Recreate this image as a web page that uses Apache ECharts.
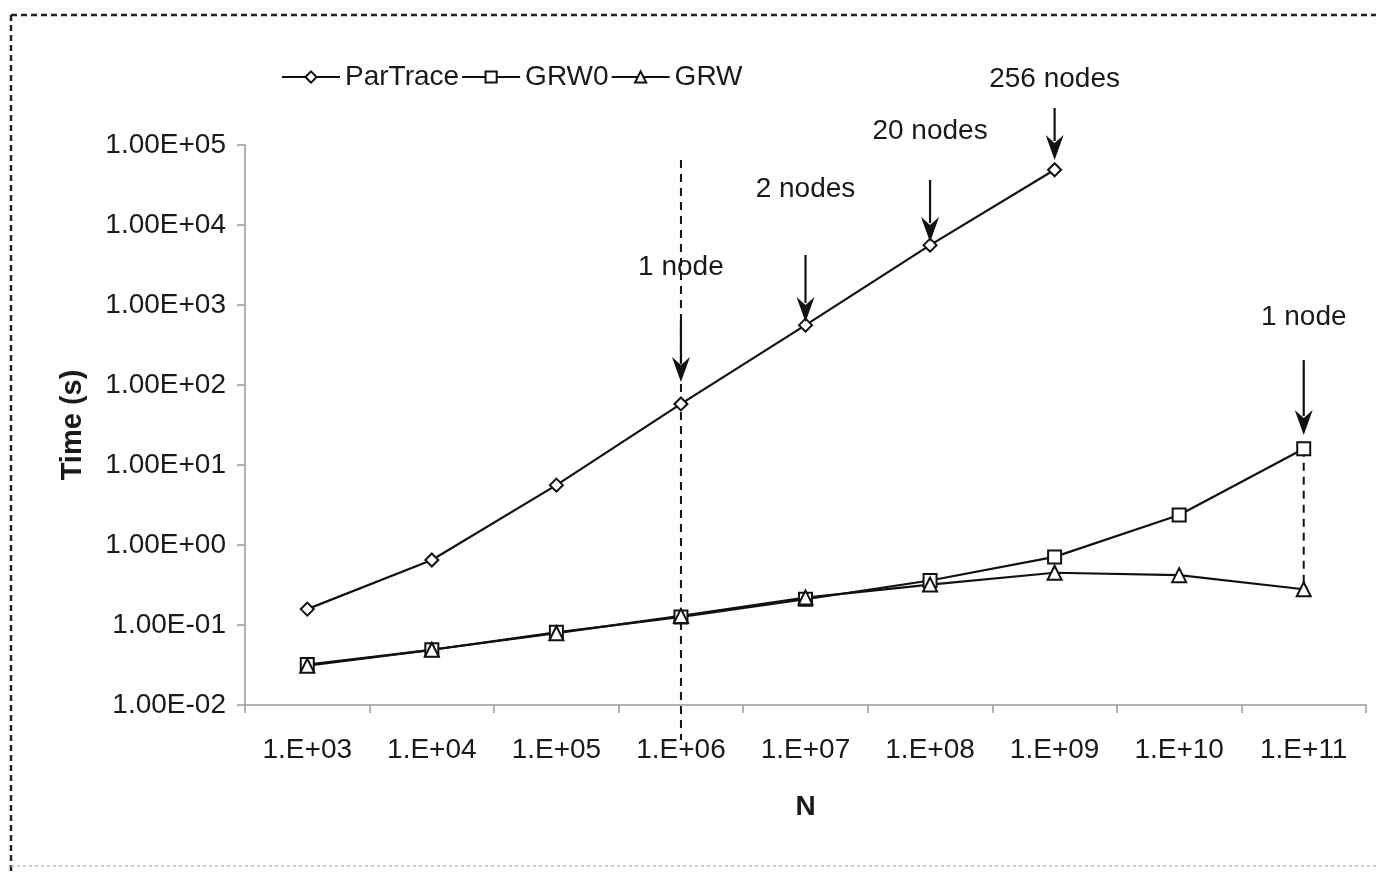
<!DOCTYPE html>
<html>
<head>
<meta charset="utf-8">
<script src="https://cdn.jsdelivr.net/npm/echarts@6/dist/echarts.min.js"></script>
<style>
html,body{margin:0;padding:0;background:#fff;}
#chart{width:1376px;height:872px;}
</style>
</head>
<body>
<div id="chart"></div>
<script>
// ---- data ----
const categories = ['1.E+03','1.E+04','1.E+05','1.E+06','1.E+07','1.E+08','1.E+09','1.E+10','1.E+11'];
const parTrace = [0.158, 0.65, 5.6, 58, 560, 5600, 49000, null, null];
const grw0 = [0.032, 0.049, 0.081, 0.126, 0.21, 0.36, 0.71, 2.37, 16];
const grw = [0.031, 0.049, 0.079, 0.13, 0.22, 0.32, 0.45, 0.42, 0.28];
const yTickLabels = ['1.00E-02','1.00E-01','1.00E+00','1.00E+01','1.00E+02','1.00E+03','1.00E+04','1.00E+05'];

// annotation arrows (data coordinates)
const annCats = ['1.E+06','1.E+07','1.E+08','1.E+09','1.E+11'];
const annTexts = ['1 node','2 nodes','20 nodes','256 nodes','1 node'];
const annFrom = [649, 4217, 36517, 290000, 205];
const annTo = [109, 613, 6131, 64938, 23.7];
const annTextAt = [2985, 28184, 149624, 668344, 708];

// dashed guide lines (data coordinates)
const guideCats = ['1.E+06','1.E+11'];
const guideFrom = [64938, 16];
const guideTo = [0.00365, 0.28];

const FONT = "'Liberation Sans', Arial, sans-serif";
const INK = '#111';
const TXT = '#1a1a1a';

const chart = echarts.init(document.getElementById('chart'), null, {renderer:'canvas'});

function lineSeries(name, data, symbol, size) {
  return {
    name: name, type: 'line', data: data, z: 3,
    symbol: symbol, symbolSize: size, showSymbol: true,
    lineStyle: {color: INK, width: 2.2},
    itemStyle: {color: '#fff', borderColor: INK, borderWidth: 2},
    emphasis: {disabled: true},
    connectNulls: false
  };
}

const option = {
  animation: false,
  backgroundColor: '#fff',
  textStyle: {fontFamily: FONT},
  graphic: [
    {type:'line', shape:{x1:11,y1:15,x2:1376,y2:15}, style:{stroke:'#222', lineWidth:2.5, lineDash:[6,4]}},
    {type:'line', shape:{x1:11,y1:15,x2:11,y2:872}, style:{stroke:'#222', lineWidth:2.5, lineDash:[6,4]}},
    {type:'line', shape:{x1:11,y1:866,x2:1376,y2:866}, style:{stroke:'#bbb', lineWidth:1.5, lineDash:[3,3]}}
  ],
  legend: {
    data: ['ParTrace','GRW0','GRW'],
    left: 276, top: 58,
    itemWidth: 58, itemHeight: 14, itemGap: 2,
    textStyle: {fontSize: 28, color: TXT, fontFamily: FONT},
    selectedMode: false
  },
  grid: {left: 245, right: 10, top: 145, bottom: 167, containLabel: false, outerBoundsMode: 'none'},
  xAxis: {
    type: 'category', data: categories, boundaryGap: true,
    axisLine: {lineStyle: {color: '#999', width: 1.5}},
    axisTick: {show: true, interval: 0, length: 8, lineStyle: {color: '#999', width: 1.5}},
    axisLabel: {interval: 0, fontSize: 28, color: TXT, margin: 31, fontFamily: FONT},
    splitLine: {show: false},
    name: 'N', nameLocation: 'middle', nameGap: 88,
    nameTextStyle: {fontSize: 28, fontWeight: 'bold', color: TXT, fontFamily: FONT}
  },
  yAxis: {
    type: 'log', logBase: 10, min: 0.01, max: 100000, splitNumber: 7,
    axisLine: {show: true, lineStyle: {color: '#999', width: 1.5}},
    axisTick: {show: true, length: 8, lineStyle: {color: '#999', width: 1.5}},
    axisLabel: {fontSize: 28, color: TXT, margin: 19, fontFamily: FONT,
      formatter: function (v) { return yTickLabels[Math.round(Math.log10(v)) + 2]; }},
    splitLine: {show: false},
    minorTick: {show: false},
    name: 'Time (s)', nameLocation: 'middle', nameRotate: 90, nameGap: 158,
    nameTextStyle: {fontSize: 29, fontWeight: 'bold', color: TXT, fontFamily: FONT}
  },
  series: [
    lineSeries('ParTrace', parTrace, 'diamond', 13),
    lineSeries('GRW0', grw0, 'rect', 13),
    lineSeries('GRW', grw, 'triangle', 14),
    {
      type: 'custom', name: 'guides', z: 1, clip: false, silent: true,
      data: guideCats.map((c, i) => [c, guideFrom[i], guideTo[i]]),
      encode: {x: 0, y: [1, 2]},
      renderItem: function (params, api) {
        const a = api.coord([api.value(0), api.value(1)]);
        const b = api.coord([api.value(0), api.value(2)]);
        return {type: 'line', shape: {x1: a[0], y1: a[1], x2: b[0], y2: b[1]},
          style: {stroke: INK, lineWidth: 2, lineDash: [8, 6]}};
      }
    },
    {
      type: 'custom', name: 'annotations', z: 4, clip: false, silent: true,
      data: annCats.map((c, i) => [c, annFrom[i], annTo[i], annTextAt[i]]),
      encode: {x: 0, y: [1, 2, 3]},
      renderItem: function (params, api) {
        const p0 = api.coord([api.value(0), api.value(1)]);
        const p1 = api.coord([api.value(0), api.value(2)]);
        const pt = api.coord([api.value(0), api.value(3)]);
        const head = 25, hw = 9;
        return {type: 'group', children: [
          {type: 'line', shape: {x1: p0[0], y1: p0[1], x2: p1[0], y2: p1[1] - head + 6},
            style: {stroke: INK, lineWidth: 2.2}},
          {type: 'polygon', shape: {points: [[p1[0], p1[1]], [p1[0] - hw, p1[1] - head], [p1[0], p1[1] - head + 8], [p1[0] + hw, p1[1] - head]]},
            style: {fill: INK}},
          {type: 'text', style: {text: annTexts[params.dataIndex], x: pt[0], y: pt[1],
            align: 'center', verticalAlign: 'middle', fontSize: 28, fontFamily: FONT, fill: TXT}}
        ]};
      }
    }
  ]
};
chart.setOption(option);
</script>
</body>
</html>
